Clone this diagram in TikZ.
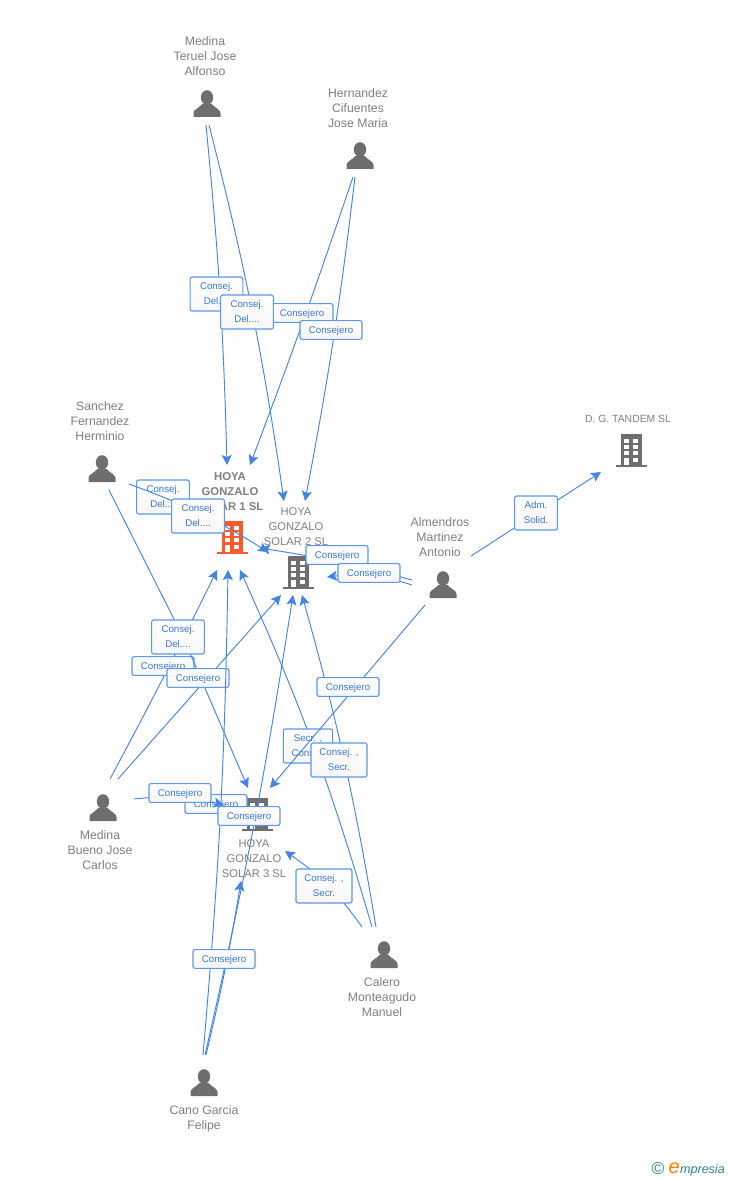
\documentclass[tikz,border=0pt]{standalone}
\usepackage{fontspec}
\setmainfont{Liberation Sans}
\usetikzlibrary{arrows.meta}
\definecolor{linkblue}{HTML}{4484E4}
\definecolor{boxblue}{HTML}{5C97EA}
\definecolor{textblue}{HTML}{3A78DC}
\definecolor{namegrey}{HTML}{7F7F7F}
\definecolor{icongrey}{HTML}{6E6E6E}
\definecolor{mainorange}{HTML}{FF5A2D}
\definecolor{logoteal}{HTML}{2F7F9A}
\tikzset{
  conn/.style={draw=linkblue,line width=0.7pt,-{Stealth[length=7.5pt,width=7.5pt,inset=1.5pt]}},
  nametext/.style={align=center,text=namegrey,font=\fontsize{9.2}{11.25}\selectfont,inner sep=0pt},
  firmtext/.style={nametext,font=\fontsize{8.4}{11.25}\selectfont},
  labone/.style={draw=boxblue,rounded corners=1.5pt,line width=0.85pt,top color=white,bottom color=black!3,text=textblue,
    font=\fontsize{7.3}{11.25}\selectfont,align=center,minimum width=46.5pt,minimum height=14pt,inner sep=0pt,
    text height=5.5pt,text depth=0pt},
  labtwo/.style={labone,minimum width=39.5pt,minimum height=25.5pt,text height=15.5pt},
  personicon/.pic={
    \fill[icongrey] (0,-19.5) ellipse (6.2 and 7.3);
    \fill[icongrey] (-13.5,0) -- (-13.5,-4) .. controls (-13.5,-7.5) and (-8,-9) .. (-4.5,-13) -- (4.5,-13) .. controls (8,-9) and (13.5,-7.5) .. (13.5,-4) -- (13.5,0) -- cycle;
  },
  buildingicon/.pic={
    \fill[pic actions] (-10.5,-33.5) rectangle (10.5,-2);
    \fill[pic actions] (-15.5,-2) rectangle (15.5,0);
    \foreach \wx in {-7.3,2}
      \foreach \wy in {-28,-22,-16}
        \fill[white] (\wx,\wy) rectangle ++(5.2,4.3);
    \fill[white] (-7.3,-9.5) rectangle ++(5.2,7.5);
    \fill[white] (2,-9.5) rectangle ++(5.2,4.3);
  }
}
\begin{document}
\begin{tikzpicture}[x=0.75pt,y=-0.75pt]
  \useasboundingbox (0,0) rectangle (728,1180);
  % names and icons
  \node[nametext] (medinaTname) at (205,56) {Medina\\Teruel Jose\\Alfonso};
  \node[nametext] (hernandezname) at (358,108) {Hernandez\\Cifuentes\\Jose Maria};
  \node[nametext] (sanchezname) at (100,421) {Sanchez\\Fernandez\\Herminio};
  \node[nametext] (almendrosname) at (440,537) {Almendros\\Martinez\\Antonio};
  \node[nametext] (medinaBname) at (100,850) {Medina\\Bueno Jose\\Carlos};
  \node[nametext] (caleroname) at (382,997) {Calero\\Monteagudo\\Manuel};
  \node[nametext] (canoname) at (204,1119) {Cano Garcia\\Felipe};
  \node[firmtext,font=\fontsize{7.8}{11.25}\selectfont] (tandemname) at (628,419) {D. G. TANDEM SL};
  \node[firmtext,font=\fontsize{8.5}{11.25}\selectfont\bfseries] (hoyaAname) at (230,492) {HOYA\\GONZALO\\SOLAR 1 SL};
  \node[firmtext] (hoyaBname) at (296,527) {HOYA\\GONZALO\\SOLAR 2 SL};
  \node[firmtext] (hoyaCname) at (254,859) {HOYA\\GONZALO\\SOLAR 3 SL};
  \pic (medinaT) at (207,117) {personicon};
  \pic (hernandez) at (360,169) {personicon};
  \pic (sanchez) at (102,482) {personicon};
  \pic (almendros) at (443,598) {personicon};
  \pic (medinaB) at (103,821) {personicon};
  \pic (calero) at (384,968) {personicon};
  \pic (cano) at (204,1096) {personicon};
  \pic[fill=mainorange] (hoyaA) at (232,554) {buildingicon};
  \pic[fill=icongrey] (hoyaB) at (298,589) {buildingicon};
  \pic[fill=icongrey] (hoyaC) at (257,831) {buildingicon};
  \pic[fill=icongrey] (tandem) at (631,467) {buildingicon};
  % free ends
  \coordinate (mtA) at (206,125);
  \coordinate (mtB) at (209,125);
  \coordinate (heA) at (353,177);
  \coordinate (heB) at (355,177);
  \coordinate (saA) at (129,484);
  \coordinate (saB) at (109,490);
  \coordinate (saBvia) at (183,637);
  \coordinate (alA) at (412,580);
  \coordinate (alB) at (412,585);
  \coordinate (alC) at (471,556);
  \coordinate (alD) at (425,605);
  \coordinate (mbA) at (110,779);
  \coordinate (mbB) at (118,779);
  \coordinate (mbC) at (134,799);
  \coordinate (caA) at (376,927);
  \coordinate (caB) at (372,927);
  \coordinate (caC) at (362,927);
  \coordinate (cnA) at (203,1055);
  \coordinate (cnB) at (205,1055);
  \coordinate (cnC) at (206,1055);
  \coordinate (toAtopA) at (227,465);
  \coordinate (toAtopB) at (250,465);
  \coordinate (toAright) at (260,548);
  \coordinate (toAlowA) at (217,570);
  \coordinate (toAlowB) at (228,570);
  \coordinate (toAlowC) at (240,570);
  \coordinate (toBtopA) at (284,501);
  \coordinate (toBtopB) at (305,501);
  \coordinate (toBleft) at (268,552);
  \coordinate (toBright) at (327,577);
  \coordinate (toBlowA) at (281,595);
  \coordinate (toBlowB) at (293,595);
  \coordinate (toBlowC) at (302,595);
  \coordinate (toCtopA) at (248,788);
  \coordinate (toCtopB) at (270,788);
  \coordinate (toCleft) at (224,805);
  \coordinate (toClow) at (241,881);
  \coordinate (toCright) at (285,851);
  \coordinate (toTandem) at (601,472);
  % connectors and their labels, in stacking order
  \draw[conn] (mtA) to[bend left=2] (toAtopA);
  \node[labtwo] (labMtA) at (216.5,294) {Consej.\\Del....};
  \draw[conn] (heA) to[bend left=1] (toAtopB);
  \node[labone] (labHeA) at (302,313) {Consejero};
  \draw[conn] (mtB) to[bend left=3] (toBtopA);
  \node[labtwo] (labMtB) at (247,312) {Consej.\\Del....};
  \draw[conn] (heB) to[bend left=2] (toBtopB);
  \node[labone] (labHeB) at (331,330) {Consejero};
  \node[labtwo] (labSaA) at (163,497) {Consej.\\Del....};
  \draw[conn] (saA) to[bend left=6] (toBleft);
  \node[labtwo] (labSaB) at (198,516) {Consej.\\Del....};
  \draw[conn] (alA) to[bend right=3] (toAright);
  \node[labone] (labAlA) at (337,555) {Consejero};
  \draw[conn] (alB) to[bend right=12] (toBright);
  \node[labone] (labAlB) at (369,573) {Consejero};
  \draw[conn] (alC) -- (toTandem);
  \node[labtwo,minimum width=32pt] (labAlC) at (536,513) {Adm.\\Solid.};
  \draw[conn] (mbA) to[bend right=1] (toAlowA);
  \node[labone] (labMbA) at (163,666) {Consejero};
  \draw[conn] (saB) -- (saBvia) -- (toCtopA);
  \node[labtwo] (labSaC) at (178,637) {Consej.\\Del....};
  \draw[conn] (mbB) -- (toBlowA);
  \node[labone] (labMbB) at (198,678) {Consejero};
  \draw[conn] (caB) to[bend right=4] (toAlowC);
  \node[labtwo,minimum width=37pt] (labCaB) at (308,746) {Secr. ,\\Consej.};
  \draw[conn] (caA) to[bend right=3] (toBlowC);
  \node[labtwo,minimum width=42pt] (labCaA) at (339,760) {Consej. ,\\Secr.};
  \draw[conn] (alD) -- (toCtopB);
  \node[labone] (labAlD) at (348,687) {Consejero};
  \node[labone] (labCnA) at (216,804) {Consejero};
  \draw[conn] (cnA) to[bend right=2] (toAlowB);
  \draw[conn] (mbC) to[bend left=10] (toCleft);
  \node[labone] (labMbC) at (180,793) {Consejero};
  \draw[conn] (cnB) to[bend right=2] (toBlowB);
  \node[labone] (labCnB) at (249,816) {Consejero};
  \draw[conn] (cnC) to[bend right=2] (toClow);
  \node[labone] (labCnC) at (224,959) {Consejero};
  \draw[conn] (caC) to[bend right=10] (toCright);
  \node[labtwo,minimum width=42pt] (labCaC) at (324,886) {Consej. ,\\Secr.};
  % logo
  \node[inner sep=0pt,text=logoteal,font=\fontsize{13}{13}\selectfont] (logoC) at (658,1169) {©};
  \node[inner sep=0pt,anchor=base east,text=logoteal,font=\fontsize{9.4}{9.4}\selectfont\itshape] (logoT) at (725,1173) {mpresia};
  \node[inner sep=0pt,anchor=base east,text=orange,font=\fontsize{15}{15}\selectfont\itshape] (logoE) at (logoT.base west) {e};
\end{tikzpicture}
\end{document}
